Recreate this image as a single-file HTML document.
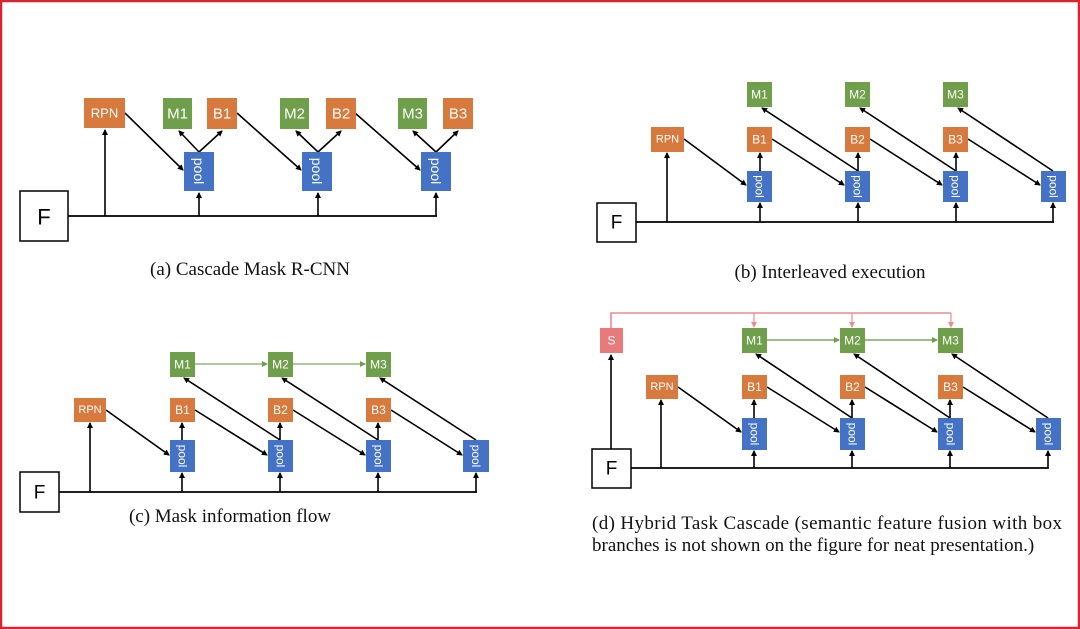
<!DOCTYPE html>
<html><head><meta charset="utf-8"><style>
html,body{margin:0;padding:0;background:#fff}
svg{display:block}
.o{fill:#d8793d}.g{fill:#6f9f4a}.b{fill:#4472c4}.s{fill:#e77b7b}
.t{fill:#fff;font-family:"Liberation Sans",sans-serif;text-anchor:middle;dominant-baseline:central}
.l{stroke:#000;stroke-width:1.6;fill:none;marker-end:url(#a)}
.n{stroke:#000;stroke-width:1.8;fill:none}
.c{font-family:"Liberation Serif",serif;font-size:19px;fill:#111}
</style></head><body>
<svg width="1080" height="629" viewBox="0 0 1080 629" xmlns="http://www.w3.org/2000/svg">
<defs>
<marker id="a" markerWidth="6" markerHeight="6" refX="5" refY="3" orient="auto" markerUnits="userSpaceOnUse"><path d="M0,0L6,3L0,6z" fill="#000"/></marker>
<marker id="ag" markerWidth="6" markerHeight="6" refX="5" refY="3" orient="auto" markerUnits="userSpaceOnUse"><path d="M0,0L6,3L0,6z" fill="#6f9f4a"/></marker>
<marker id="ar" markerWidth="6" markerHeight="6" refX="5" refY="3" orient="auto" markerUnits="userSpaceOnUse"><path d="M0,0L6,3L0,6z" fill="#e88e8e"/></marker>
</defs>
<rect x="1" y="1" width="1078" height="627" fill="none" stroke="#d9232e" stroke-width="2.5"/>

<!-- Panel a -->
<rect x="20" y="191" width="48" height="50" fill="#fff" stroke="#000" stroke-width="1.5"/>
<text x="44" y="217" font-family="Liberation Sans,sans-serif" font-size="22" text-anchor="middle" dominant-baseline="central">F</text>
<line class="n" x1="68" y1="216" x2="437" y2="216"/>
<line class="l" x1="105" y1="216" x2="105" y2="130"/>
<line class="l" x1="199" y1="216" x2="199" y2="193"/>
<line class="l" x1="318" y1="216" x2="318" y2="193"/>
<line class="l" x1="436" y1="216" x2="436" y2="193"/>
<line class="l" x1="125" y1="113" x2="183" y2="170"/>
<line class="l" x1="237" y1="113" x2="301" y2="170"/>
<line class="l" x1="355" y1="113" x2="420" y2="170"/>
<line class="l" x1="199" y1="152" x2="179" y2="131"/><line class="l" x1="199" y1="152" x2="222" y2="131"/>
<line class="l" x1="318" y1="152" x2="296" y2="131"/><line class="l" x1="318" y1="152" x2="341" y2="131"/>
<line class="l" x1="436" y1="152" x2="413" y2="131"/><line class="l" x1="436" y1="152" x2="458" y2="131"/>
<rect class="o" x="84" y="98" width="41" height="30"/><text class="t" x="104.5" y="113" font-size="13">RPN</text>
<rect class="g" x="163" y="98" width="29" height="31"/><text class="t" x="177.5" y="114" font-size="15">M1</text>
<rect class="o" x="207" y="98" width="30" height="31"/><text class="t" x="222" y="114" font-size="15">B1</text>
<rect class="g" x="280" y="98" width="29" height="31"/><text class="t" x="294.5" y="114" font-size="15">M2</text>
<rect class="o" x="326" y="98" width="30" height="31"/><text class="t" x="341" y="114" font-size="15">B2</text>
<rect class="g" x="398" y="98" width="29" height="31"/><text class="t" x="412.5" y="114" font-size="15">M3</text>
<rect class="o" x="443" y="98" width="30" height="31"/><text class="t" x="458" y="114" font-size="15">B3</text>
<rect class="b" x="184" y="152" width="30" height="39"/><text class="t" font-size="14" transform="translate(199,171) rotate(90)">pool</text>
<rect class="b" x="302" y="152" width="30" height="39"/><text class="t" font-size="14" transform="translate(317,171) rotate(90)">pool</text>
<rect class="b" x="421" y="152" width="30" height="39"/><text class="t" font-size="14" transform="translate(436,171) rotate(90)">pool</text>
<text class="c" x="250" y="275" text-anchor="middle">(a) Cascade Mask R-CNN</text>

<!-- Panel b -->
<rect x="597" y="203" width="39" height="39" fill="#fff" stroke="#000" stroke-width="1.5"/>
<text x="616.5" y="223" font-family="Liberation Sans,sans-serif" font-size="19" text-anchor="middle" dominant-baseline="central">F</text>
<line class="n" x1="636" y1="222" x2="1054" y2="222"/>
<line class="l" x1="667" y1="222" x2="667" y2="153" stroke="#666" stroke-width="1"/>
<line class="l" x1="760" y1="222" x2="760" y2="203"/><line class="l" x1="858" y1="222" x2="858" y2="203"/><line class="l" x1="956" y1="222" x2="956" y2="203"/><line class="l" x1="1053" y1="222" x2="1053" y2="203"/>
<line class="l" x1="760" y1="171" x2="760" y2="153"/><line class="l" x1="858" y1="171" x2="858" y2="153"/><line class="l" x1="956" y1="171" x2="956" y2="153"/>
<line class="l" x1="684" y1="139" x2="746" y2="185"/><line class="l" x1="772" y1="139" x2="844" y2="185"/><line class="l" x1="870" y1="139" x2="942" y2="185"/><line class="l" x1="968" y1="139" x2="1040" y2="185"/>
<line class="l" x1="858" y1="171" x2="762" y2="108"/><line class="l" x1="956" y1="171" x2="860" y2="108"/><line class="l" x1="1053" y1="171" x2="958" y2="108"/>
<rect class="o" x="651" y="127" width="33" height="25"/><text class="t" x="667.5" y="139.5" font-size="11">RPN</text>
<rect class="g" x="747" y="82" width="25" height="25"/><text class="t" x="759.5" y="94.5" font-size="12">M1</text>
<rect class="g" x="845" y="82" width="25" height="25"/><text class="t" x="857.5" y="94.5" font-size="12">M2</text>
<rect class="g" x="943" y="82" width="25" height="25"/><text class="t" x="955.5" y="94.5" font-size="12">M3</text>
<rect class="o" x="747" y="127" width="25" height="25"/><text class="t" x="759.5" y="139.5" font-size="12">B1</text>
<rect class="o" x="845" y="127" width="25" height="25"/><text class="t" x="857.5" y="139.5" font-size="12">B2</text>
<rect class="o" x="943" y="127" width="25" height="25"/><text class="t" x="955.5" y="139.5" font-size="12">B3</text>
<rect class="b" x="747" y="171" width="25" height="31"/><text class="t" font-size="12" transform="translate(759.5,186.5) rotate(90)">pool</text>
<rect class="b" x="845" y="171" width="25" height="31"/><text class="t" font-size="12" transform="translate(857.5,186.5) rotate(90)">pool</text>
<rect class="b" x="943" y="171" width="25" height="31"/><text class="t" font-size="12" transform="translate(955.5,186.5) rotate(90)">pool</text>
<rect class="b" x="1041" y="171" width="25" height="31"/><text class="t" font-size="12" transform="translate(1053.5,186.5) rotate(90)">pool</text>
<text class="c" x="830" y="278" text-anchor="middle">(b) Interleaved execution</text>

<!-- Panel c -->
<rect x="20" y="472" width="39" height="40" fill="#fff" stroke="#000" stroke-width="1.5"/>
<text x="39.5" y="493" font-family="Liberation Sans,sans-serif" font-size="19" text-anchor="middle" dominant-baseline="central">F</text>
<line class="n" x1="59" y1="492" x2="477" y2="492"/>
<line class="l" x1="90" y1="492" x2="90" y2="423"/>
<line class="l" x1="182" y1="492" x2="182" y2="473"/><line class="l" x1="280" y1="492" x2="280" y2="473"/><line class="l" x1="378" y1="492" x2="378" y2="473"/><line class="l" x1="476" y1="492" x2="476" y2="473"/>
<line class="l" x1="182" y1="440" x2="182" y2="423"/><line class="l" x1="280" y1="440" x2="280" y2="423"/><line class="l" x1="378" y1="440" x2="378" y2="423"/>
<line class="l" x1="106" y1="410" x2="169" y2="455"/><line class="l" x1="195" y1="410" x2="267" y2="455"/><line class="l" x1="293" y1="410" x2="365" y2="455"/><line class="l" x1="391" y1="410" x2="462" y2="455"/>
<line class="l" x1="280" y1="440" x2="184" y2="378"/><line class="l" x1="378" y1="440" x2="282" y2="378"/><line class="l" x1="476" y1="440" x2="380" y2="378"/>
<line x1="195" y1="364" x2="267" y2="364" stroke="#7faa5c" stroke-width="1.2" marker-end="url(#ag)"/>
<line x1="293" y1="364" x2="365" y2="364" stroke="#7faa5c" stroke-width="1.2" marker-end="url(#ag)"/>
<rect class="o" x="74" y="398" width="32" height="24"/><text class="t" x="90" y="410" font-size="11">RPN</text>
<rect class="g" x="170" y="352" width="25" height="25"/><text class="t" x="182.5" y="364.5" font-size="12">M1</text>
<rect class="g" x="268" y="352" width="25" height="25"/><text class="t" x="280.5" y="364.5" font-size="12">M2</text>
<rect class="g" x="366" y="352" width="25" height="25"/><text class="t" x="378.5" y="364.5" font-size="12">M3</text>
<rect class="o" x="170" y="398" width="25" height="24"/><text class="t" x="182.5" y="410" font-size="12">B1</text>
<rect class="o" x="268" y="398" width="25" height="24"/><text class="t" x="280.5" y="410" font-size="12">B2</text>
<rect class="o" x="366" y="398" width="25" height="24"/><text class="t" x="378.5" y="410" font-size="12">B3</text>
<rect class="b" x="170" y="440" width="25" height="32"/><text class="t" font-size="12" transform="translate(182.5,456) rotate(90)">pool</text>
<rect class="b" x="268" y="440" width="25" height="32"/><text class="t" font-size="12" transform="translate(280.5,456) rotate(90)">pool</text>
<rect class="b" x="366" y="440" width="25" height="32"/><text class="t" font-size="12" transform="translate(378.5,456) rotate(90)">pool</text>
<rect class="b" x="463" y="440" width="26" height="32"/><text class="t" font-size="12" transform="translate(476,456) rotate(90)">pool</text>
<text class="c" x="230" y="522" text-anchor="middle">(c) Mask information flow</text>

<!-- Panel d -->
<rect x="592" y="449" width="39" height="39" fill="#fff" stroke="#000" stroke-width="1.5"/>
<text x="611.5" y="469" font-family="Liberation Sans,sans-serif" font-size="19" text-anchor="middle" dominant-baseline="central">F</text>
<line class="n" x1="631" y1="468" x2="1049" y2="468"/>
<line class="l" x1="611" y1="449" x2="611" y2="355" stroke-width="1"/>
<polyline points="611,328 611,313 951,313" fill="none" stroke="#e88e8e" stroke-width="1.6"/>
<line x1="754" y1="313" x2="754" y2="327" stroke="#e88e8e" stroke-width="1.2" marker-end="url(#ar)"/>
<line x1="852" y1="313" x2="852" y2="327" stroke="#e88e8e" stroke-width="1.2" marker-end="url(#ar)"/>
<line x1="951" y1="313" x2="951" y2="327" stroke="#e88e8e" stroke-width="1.2" marker-end="url(#ar)"/>
<line class="l" x1="661" y1="468" x2="661" y2="400"/>
<line class="l" x1="754" y1="468" x2="754" y2="451"/><line class="l" x1="852" y1="468" x2="852" y2="451"/><line class="l" x1="950" y1="468" x2="950" y2="451"/><line class="l" x1="1048" y1="468" x2="1048" y2="451"/>
<line class="l" x1="754" y1="418" x2="754" y2="400"/><line class="l" x1="852" y1="418" x2="852" y2="400"/><line class="l" x1="950" y1="418" x2="950" y2="400"/>
<line class="l" x1="678" y1="387" x2="741" y2="432"/><line class="l" x1="767" y1="387" x2="839" y2="432"/><line class="l" x1="865" y1="387" x2="937" y2="432"/><line class="l" x1="963" y1="387" x2="1035" y2="432"/>
<line class="l" x1="852" y1="418" x2="756" y2="354"/><line class="l" x1="950" y1="418" x2="854" y2="354"/><line class="l" x1="1048" y1="418" x2="952" y2="354"/>
<line x1="767" y1="340" x2="839" y2="340" stroke="#7faa5c" stroke-width="1.6" marker-end="url(#ag)"/>
<line x1="865" y1="340" x2="937" y2="340" stroke="#7faa5c" stroke-width="1.6" marker-end="url(#ag)"/>
<rect class="s" x="600" y="328" width="23" height="25"/><text class="t" x="611.5" y="340.5" font-size="12">S</text>
<rect class="o" x="646" y="375" width="32" height="24"/><text class="t" x="662" y="387" font-size="11">RPN</text>
<rect class="g" x="742" y="328" width="25" height="25"/><text class="t" x="754.5" y="340.5" font-size="12">M1</text>
<rect class="g" x="840" y="328" width="25" height="25"/><text class="t" x="852.5" y="340.5" font-size="12">M2</text>
<rect class="g" x="938" y="328" width="25" height="25"/><text class="t" x="950.5" y="340.5" font-size="12">M3</text>
<rect class="o" x="742" y="375" width="25" height="24"/><text class="t" x="754.5" y="387" font-size="12">B1</text>
<rect class="o" x="840" y="375" width="25" height="24"/><text class="t" x="852.5" y="387" font-size="12">B2</text>
<rect class="o" x="938" y="375" width="25" height="24"/><text class="t" x="950.5" y="387" font-size="12">B3</text>
<rect class="b" x="742" y="418" width="25" height="32"/><text class="t" font-size="12" transform="translate(754.5,434) rotate(90)">pool</text>
<rect class="b" x="840" y="418" width="25" height="32"/><text class="t" font-size="12" transform="translate(852.5,434) rotate(90)">pool</text>
<rect class="b" x="938" y="418" width="25" height="32"/><text class="t" font-size="12" transform="translate(950.5,434) rotate(90)">pool</text>
<rect class="b" x="1036" y="418" width="25" height="32"/><text class="t" font-size="12" transform="translate(1048.5,434) rotate(90)">pool</text>
<text class="c" x="592" y="529" textLength="470" lengthAdjust="spacing">(d) Hybrid Task Cascade (semantic feature fusion with box</text>
<text class="c" x="592" y="551">branches is not shown on the figure for neat presentation.)</text>
</svg>
</body></html>
